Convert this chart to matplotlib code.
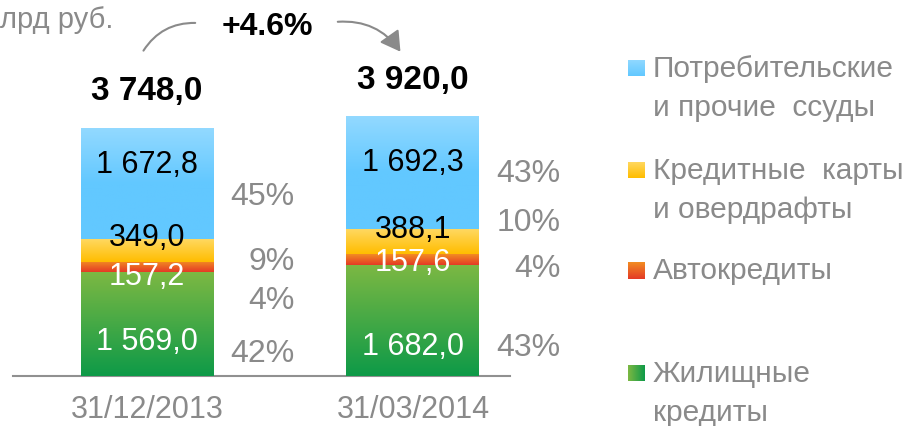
import numpy as np
import matplotlib
matplotlib.use("Agg")
import matplotlib.pyplot as plt
from matplotlib.colors import LinearSegmentedColormap
from matplotlib.patches import FancyArrowPatch

plt.rcParams["font.family"] = ["Liberation Sans", "DejaVu Sans"]

dates = ["31/12/2013", "31/03/2014"]
mortgage = [1569.0, 1682.0]
auto = [157.2, 157.6]
cards = [349.0, 388.1]
consumer = [1672.8, 1692.3]
totals = [3748.0, 3920.0]
pct_mortgage = [42, 43]
pct_auto = [4, 4]
pct_cards = [9, 10]
pct_consumer = [45, 43]
growth = "+4.6%"
unit = "млрд руб."

W, H = 910, 426
GRAY = "#8a8a8a"


def fmt(v):
    s = f"{v:,.1f}".replace(",", " ").replace(".", ",")
    return s


def px(x, y):
    # pixel position (top-left origin) -> figure fraction
    return x / W, 1 - y / H


fig = plt.figure(figsize=(W / 100, H / 100), dpi=100)
ax = fig.add_axes([13 / W, 50 / H, 497 / W, 376 / H])

scale = 0.0662  # px per unit

segments = [
    ("mortgage", mortgage, pct_mortgage, ["#7cb843", "#0e9a48"], "white"),
    ("auto", auto, pct_auto, ["#f28c22", "#e43a26"], "white"),
    ("cards", cards, pct_cards, ["#ffd964", "#ffbd00"], "black"),
    ("consumer", consumer, pct_consumer, ["#92d9ff", "#62c8ff", "#62c8ff"], "black"),
]

# label offsets in pixels from segment center, per bar
val_off = {"mortgage": [-18, -27], "auto": [-10, -4],
           "cards": [12, 11], "consumer": [18, 10]}
pct_off = {"mortgage": [-30, -28], "auto": [-34, -10],
           "cards": [-12, 18], "consumer": [-14, -1]}

x = np.arange(len(dates))
width = 0.5
bottom = np.zeros(len(dates))
for name, vals, pcts, cols, tcol in segments:
    bars = ax.bar(x, vals, width, bottom=bottom, color=cols[-1], zorder=2)
    cmap = LinearSegmentedColormap.from_list(name, cols)
    for i, b in enumerate(bars):
        x0, y0 = b.get_x(), b.get_y()
        grad = np.linspace(0, 1, 100).reshape(-1, 1)
        ax.imshow(grad, extent=[x0, x0 + b.get_width(), y0, y0 + b.get_height()],
                  origin="upper", aspect="auto", cmap=cmap, zorder=3)
        cy = y0 + b.get_height() / 2
        ax.annotate(fmt(vals[i]), (x[i], cy), xytext=(0, val_off[name][i]),
                    textcoords="offset pixels", ha="center", va="center",
                    fontsize=22, color=tcol, zorder=5, annotation_clip=False)
        ax.annotate(f"{pcts[i]}%", (x0 + b.get_width(), cy),
                    xytext=(81, pct_off[name][i]), textcoords="offset pixels",
                    ha="right", va="center", fontsize=23, color=GRAY,
                    annotation_clip=False)
    bottom += np.array(vals)

for i, t in enumerate(totals):
    ax.annotate(fmt(t), (x[i], t), xytext=(0, 36), textcoords="offset pixels",
                ha="center", va="center", fontsize=24, fontweight="bold",
                color="black", annotation_clip=False)

ax.set_xlim((13 - 147) / 266, (510 - 147) / 266)
ax.set_ylim(0, 376 / scale)
ax.set_xticks(x, dates)
ax.tick_params(axis="x", length=0, pad=14, labelsize=22, labelcolor=GRAY)
ax.set_yticks([])
for s in ["top", "left", "right"]:
    ax.spines[s].set_visible(False)
ax.spines["bottom"].set_color("#909090")
ax.spines["bottom"].set_linewidth(1.5)

fig.text(*px(113, 20), unit, ha="right", va="center", fontsize=21, color=GRAY)
fig.text(*px(267, 27), growth, ha="center", va="center", fontsize=23,
         fontweight="bold", color="black")

arc1 = FancyArrowPatch(px(142, 53), px(198, 23), transform=fig.transFigure,
                       connectionstyle="arc3,rad=-0.3", arrowstyle="-",
                       color=GRAY, lw=1.5)
arc2 = FancyArrowPatch(px(335, 22), px(402, 54), transform=fig.transFigure,
                       connectionstyle="arc3,rad=-0.3",
                       arrowstyle="-|>,head_length=0.6,head_width=0.35",
                       mutation_scale=20, color=GRAY, lw=1.5)
fig.patches.extend([arc1, arc2])

# legend
legend = [
    (["#92d9ff", "#62c8ff"], "v", 68, ["Потребительские", "и прочие  ссуды"]),
    (["#ffd964", "#ffbd00"], "v", 170, ["Кредитные  карты", "и овердрафты"]),
    (["#f28c22", "#e43a26"], "v", 270, ["Автокредиты"]),
    (["#7cb843", "#0e9a48"], "h", 373, ["Жилищные", "кредиты"]),
]
for cols, orient, yc, lines in legend:
    lx, ly = px(628, yc + 8.5)
    sq = fig.add_axes([lx, ly, 17 / W, 17 / H])
    g = np.linspace(0, 1, 50)
    g = g.reshape(1, -1) if orient == "h" else g.reshape(-1, 1)
    sq.imshow(g, aspect="auto", cmap=LinearSegmentedColormap.from_list("l", cols))
    sq.axis("off")
    for k, line in enumerate(lines):
        fig.text(*px(653, yc + 1 + k * 39), line, ha="left", va="center",
                 fontsize=21.5, color=GRAY)

fig.savefig("out.png", dpi=100)
